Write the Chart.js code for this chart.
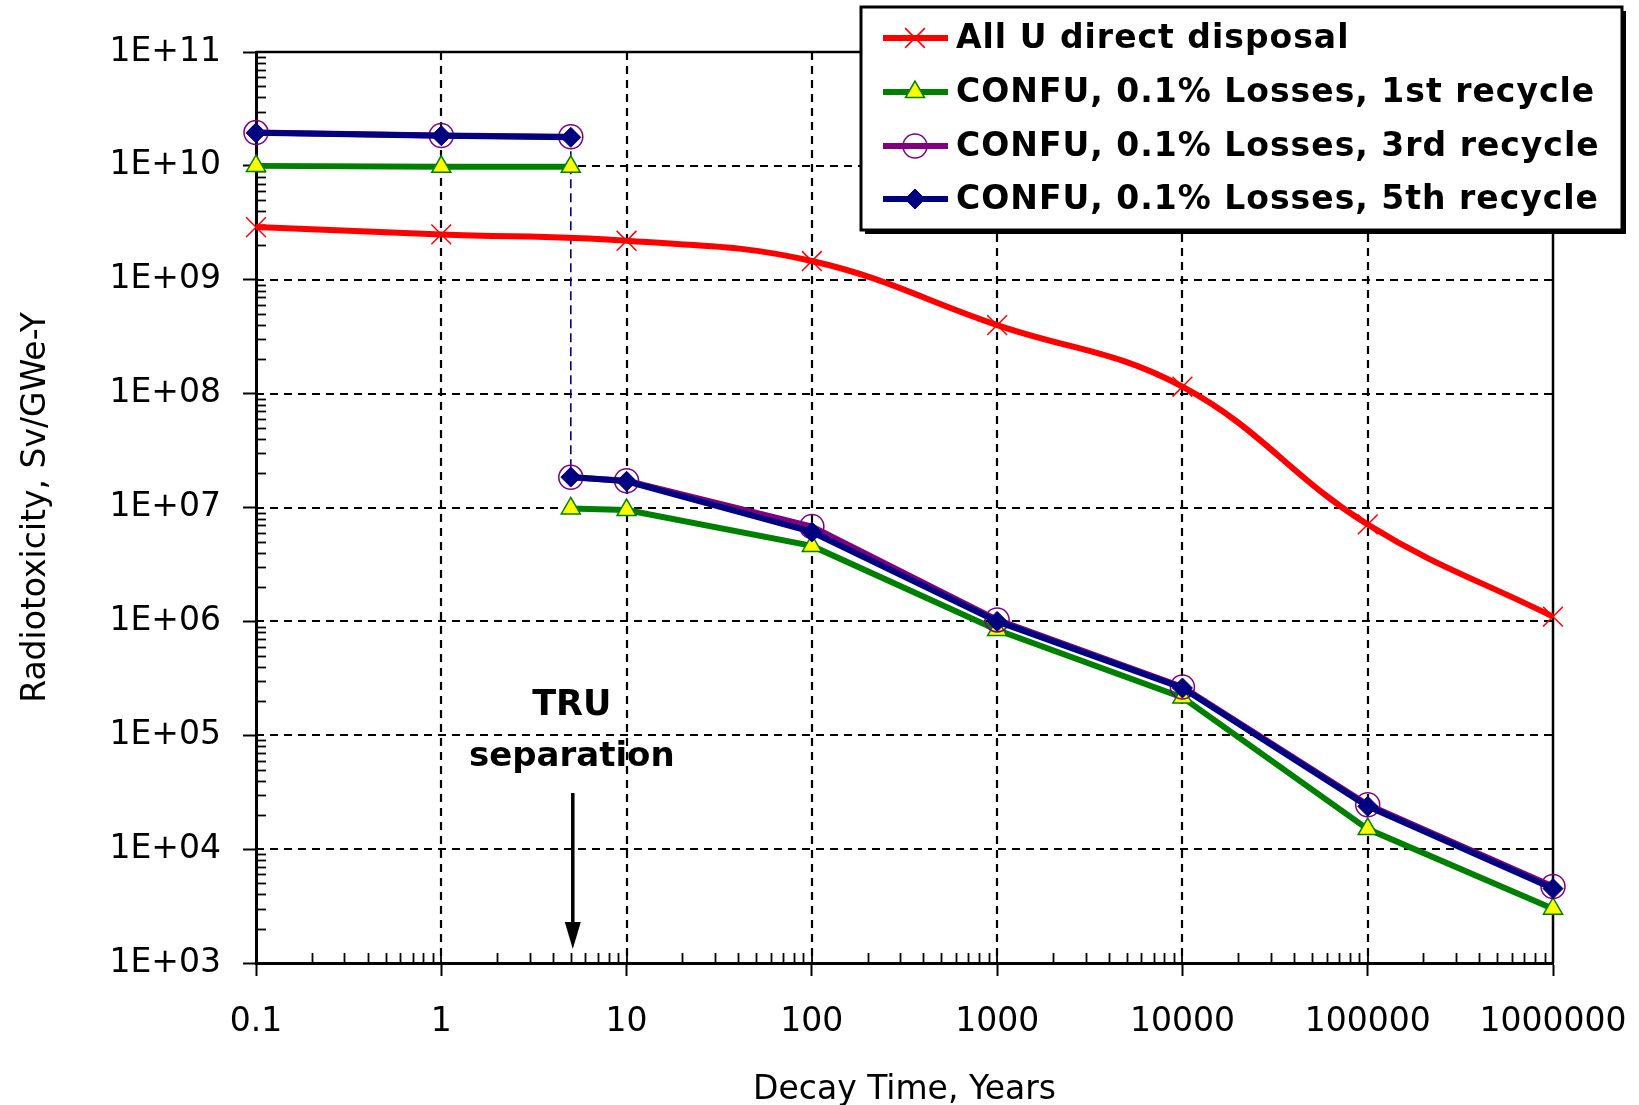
<!DOCTYPE html>
<html><head><meta charset="utf-8">
<script src="https://cdn.jsdelivr.net/npm/chart.js@4.4.1/dist/chart.umd.min.js"></script>
<style>html,body{margin:0;padding:0;background:#fff;overflow:hidden;} canvas{display:block;}</style>
</head><body>
<canvas id="c" width="1639" height="1105"></canvas>
<script>
// ---- data ----
const xTickValues = [0.1, 1, 10, 100, 1000, 10000, 100000, 1000000];
const xTickLabels = ['0.1', '1', '10', '100', '1000', '10000', '100000', '1000000'];
const yTickValues = [1e3, 1e4, 1e5, 1e6, 1e7, 1e8, 1e9, 1e10, 1e11];
const yTickLabels = ['1E+03', '1E+04', '1E+05', '1E+06', '1E+07', '1E+08', '1E+09', '1E+10', '1E+11'];
const seriesNames = [
  'All U direct disposal',
  'CONFU, 0.1% Losses, 1st recycle',
  'CONFU, 0.1% Losses, 3rd recycle',
  'CONFU, 0.1% Losses, 5th recycle'
];
const directYears = [0.1, 1, 10, 100, 1000, 10000, 100000, 1000000];
const directValues = [2.9e9, 2.5e9, 2.2e9, 1.46e9, 4.0e8, 1.15e8, 7.1e6, 1.1e6];
const recycleYears = [0.1, 1, 5, 5, 10, 100, 1000, 10000, 100000, 1000000];
const recycle1Values = [1.0e10, 9.8e9, 9.8e9, 9.8e6, 9.5e6, 4.6e6, 8.4e5, 2.15e5, 1.5e4, 3.0e3];
const recycle3Values = [1.96e10, 1.85e10, 1.8e10, 1.84e7, 1.72e7, 6.8e6, 1.03e6, 2.65e5, 2.45e4, 4.7e3];
const recycle5Values = [1.95e10, 1.84e10, 1.78e10, 1.85e7, 1.7e7, 6.1e6, 1.0e6, 2.6e5, 2.38e4, 4.5e3];
const separationYear = 5;
const annotationLines = ['TRU', 'separation'];
const xTitle = 'Decay Time, Years';
const yTitle = 'Radiotoxicity, Sv/GWe-Y';

// ---- helpers ----
const pts = (xs, ys) => xs.map((x, i) => ({x: x, y: ys[i]}));
const isGap = c => c.p0.parsed.x === c.p1.parsed.x;
const FONT = "'DejaVu Sans', Verdana, sans-serif";

const frame = {
  id: 'frame',
  beforeDatasetsDraw(chart) {
    const {ctx, chartArea: a, scales: {x, y}} = chart;
    ctx.save();
    ctx.strokeStyle = '#000';
    const line = (x1, y1, x2, y2) => { ctx.beginPath(); ctx.moveTo(x1, y1); ctx.lineTo(x2, y2); ctx.stroke(); };
    // dashed grid
    ctx.lineWidth = 2.2;
    ctx.setLineDash([8, 6]);
    xTickValues.forEach(v => {
      const p = Math.round(x.getPixelForValue(v));
      if (p > a.left + 3 && p < a.right - 3) line(p, a.top, p, a.bottom);
    });
    yTickValues.forEach(v => {
      const p = Math.round(y.getPixelForValue(v));
      if (p > a.top + 3 && p < a.bottom - 3) line(a.left, p, a.right, p);
    });
    ctx.setLineDash([]);
    // top and right frame
    ctx.lineWidth = 2.5;
    line(a.left, a.top, a.right, a.top);
    line(a.right, a.top, a.right, a.bottom);
    // minor ticks (inward)
    ctx.lineWidth = 1.8;
    for (let e = -1; e < 6; e++) {
      for (let k = 2; k <= 9; k++) {
        const p = Math.round(x.getPixelForValue(k * Math.pow(10, e))) + 0.5;
        line(p, a.bottom, p, a.bottom - 10);
      }
    }
    for (let e = 3; e < 11; e++) {
      for (let k = 2; k <= 9; k++) {
        const p = Math.round(y.getPixelForValue(k * Math.pow(10, e))) + 0.5;
        line(a.left, p, a.left + 10, p);
      }
    }
    xTickValues.forEach(v => {
      const p = Math.round(x.getPixelForValue(v));
      line(p, a.bottom, p, a.bottom - 10);
    });
    // dashed connector at the separation step (5th recycle series)
    const gi = recycleYears.indexOf(separationYear);
    const cx = x.getPixelForValue(recycleYears[gi]);
    ctx.strokeStyle = '#000080';
    ctx.lineWidth = 1.6;
    ctx.setLineDash([9, 5]);
    line(cx, y.getPixelForValue(recycle5Values[gi]), cx, y.getPixelForValue(recycle5Values[gi + 1]));
    ctx.setLineDash([]);
    ctx.restore();
  }
};

const extras = {
  id: 'extras',
  afterDraw(chart) {
    const {ctx, scales: {x}} = chart;
    ctx.save();
    // annotation
    const ax = x.getPixelForValue(separationYear);
    ctx.fillStyle = '#000';
    ctx.textAlign = 'center';
    ctx.textBaseline = 'alphabetic';
    ctx.font = "bold 35px 'DejaVu Sans', Verdana, sans-serif";
    ctx.fillText(annotationLines[0], ax + 1, 715);
    ctx.font = "bold 34px 'DejaVu Sans', Verdana, sans-serif";
    ctx.fillText(annotationLines[1], ax + 1, 766);
    ctx.strokeStyle = '#000';
    ctx.lineWidth = 3.5;
    ctx.beginPath(); ctx.moveTo(ax + 2, 793); ctx.lineTo(ax + 2, 926); ctx.stroke();
    ctx.beginPath(); ctx.moveTo(ax - 6, 922); ctx.lineTo(ax + 10, 922); ctx.lineTo(ax + 2, 949); ctx.closePath(); ctx.fill();

    // legend
    const L = {x: 861, y: 7, w: 761, h: 223};
    ctx.fillStyle = '#000';
    ctx.fillRect(L.x + 4, L.y + 4, L.w, L.h);
    ctx.fillStyle = '#fff';
    ctx.fillRect(L.x, L.y, L.w, L.h);
    ctx.lineWidth = 3;
    ctx.strokeStyle = '#000';
    ctx.strokeRect(L.x, L.y, L.w, L.h);
    const rows = [38, 92, 146, 199];
    ctx.font = "bold 33px 'DejaVu Sans', Verdana, sans-serif";
    ctx.textAlign = 'left';
    ctx.textBaseline = 'middle';
    try { ctx.letterSpacing = '1px'; } catch (e) {}
    chart.data.datasets.forEach((ds, i) => {
      const ry = rows[i];
      ctx.setLineDash([]);
      ctx.strokeStyle = ds.borderColor;
      ctx.lineWidth = 6;
      ctx.beginPath(); ctx.moveTo(883, ry); ctx.lineTo(948, ry); ctx.stroke();
      ctx.fillStyle = ds.pointBackgroundColor;
      ctx.strokeStyle = ds.pointBorderColor;
      ctx.lineWidth = ds.pointBorderWidth;
      Chart.helpers.drawPoint(ctx, {pointStyle: ds.pointStyle, radius: ds.pointRadius, borderWidth: ds.pointBorderWidth, rotation: 0}, 915, ry);
      ctx.fillStyle = '#000';
      ctx.fillText(seriesNames[i], 956, ry + 1);
    });
    ctx.restore();
  }
};

const hideGap = { borderColor: c => isGap(c) ? 'rgba(0,0,0,0)' : undefined };

const datasets = [
  {
    label: seriesNames[0], data: pts(directYears, directValues),
    borderColor: '#ff0000', borderWidth: 6, tension: 0.4,
    pointStyle: 'crossRot', pointRadius: 14, pointBorderWidth: 1.5,
    pointBorderColor: '#ff0000', pointBackgroundColor: '#ff0000', order: 3, clip: false
  },
  {
    label: seriesNames[1], data: pts(recycleYears, recycle1Values),
    borderColor: '#008000', borderWidth: 6, tension: 0,
    pointStyle: 'triangle', pointRadius: 11, pointBorderWidth: 1.5,
    pointBorderColor: '#008000', pointBackgroundColor: '#ffff00', order: 2, clip: false,
    segment: hideGap
  },
  {
    label: seriesNames[2], data: pts(recycleYears, recycle3Values),
    borderColor: '#800080', borderWidth: 6, tension: 0,
    pointStyle: 'circle', pointRadius: 12, pointBorderWidth: 1.5,
    pointBorderColor: '#800080', pointBackgroundColor: 'rgba(255,255,255,0)', order: 1, clip: false,
    segment: hideGap
  },
  {
    label: seriesNames[3], data: pts(recycleYears, recycle5Values),
    borderColor: '#000080', borderWidth: 6, tension: 0,
    pointStyle: 'rectRot', pointRadius: 10, pointBorderWidth: 1,
    pointBorderColor: '#000080', pointBackgroundColor: '#000080', order: 0, clip: false,
    segment: hideGap
  }
];

new Chart(document.getElementById('c'), {
  type: 'line',
  data: { datasets: datasets },
  options: {
    responsive: false,
    devicePixelRatio: 1,
    animation: false,
    events: [],
    layout: { padding: { left: 0, right: 86, top: 52, bottom: 0 } },
    plugins: { legend: { display: false }, tooltip: { enabled: false } },
    scales: {
      x: {
        type: 'logarithmic', position: 'bottom', min: 0.1, max: 1000000,
        afterBuildTicks: s => { s.ticks = xTickValues.map(v => ({value: v, major: true})); },
        afterFit: s => { s.height = 142; s.paddingLeft = 0; s.paddingRight = 0; },
        ticks: {
          autoSkip: false, maxRotation: 0, minRotation: 0, padding: 27, color: '#000',
          font: { family: FONT, size: 33 },
          callback: (v, i) => xTickLabels[i]
        },
        grid: { drawOnChartArea: false, drawTicks: true, tickLength: 13, tickColor: '#000', tickWidth: 2 },
        border: { display: true, color: '#000', width: 3 },
        title: { display: true, text: xTitle, color: '#000', font: { family: FONT, size: 33, lineHeight: 1 }, padding: { top: 0, bottom: -2 } }
      },
      y: {
        type: 'logarithmic', position: 'left', min: 1e3, max: 1e11,
        afterBuildTicks: s => { s.ticks = yTickValues.map(v => ({value: v, major: true})); },
        afterFit: s => { s.width = 256; s.paddingTop = 0; s.paddingBottom = 0; },
        ticks: {
          autoSkip: false, padding: 22, color: '#000',
          font: { family: FONT, size: 33 },
          callback: (v, i) => yTickLabels[i]
        },
        grid: { drawOnChartArea: false, drawTicks: true, tickLength: 13, tickColor: '#000', tickWidth: 2 },
        border: { display: true, color: '#000', width: 3 },
        title: { display: true, text: yTitle, color: '#000', font: { family: FONT, size: 33, lineHeight: 1 }, padding: { top: 20, bottom: 0 } }
      }
    }
  },
  plugins: [frame, extras]
});
</script>
</body></html>
